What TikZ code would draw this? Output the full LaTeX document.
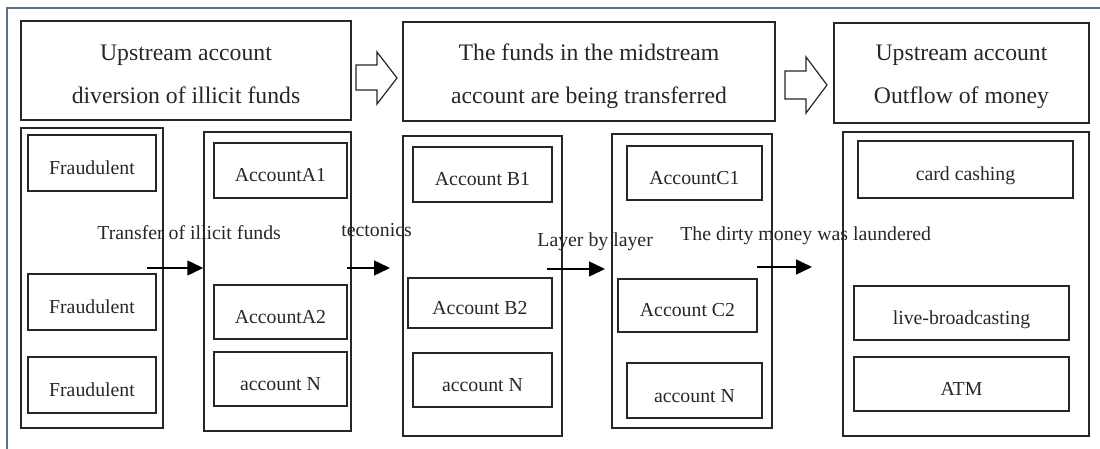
\documentclass[tikz,border=0pt]{standalone}
\usepackage{fontspec}
\setmainfont{Liberation Serif}
\usetikzlibrary{fit,arrows.meta}
\definecolor{frameblue}{HTML}{5B6F8E}
\definecolor{ink}{HTML}{262626}
\begin{document}
\begin{tikzpicture}[x=0.5pt,y=-0.5pt,
 box/.style={draw=ink, line width=0.65pt, inner sep=0pt, text=ink, font=\fontsize{9.9}{11}\selectfont, text height=11.5pt, text depth=0pt},
 head/.style={draw=ink, line width=0.65pt, inner sep=0pt},
 headtext/.style={inner sep=0pt, text=ink, align=center, font=\fontsize{11.85}{21.5}\selectfont},
 col/.style={draw=ink, line width=0.75pt, inner sep=0pt},
 lab/.style={text=ink, font=\fontsize{9.9}{11}\selectfont, inner sep=0pt, anchor=base west},
 conn/.style={draw=black, line width=0.75pt, -{Triangle[length=8pt,width=7.5pt]}},
 blockarrow/.style={draw=ink, line width=0.6pt, fill=white, line join=miter}]
\useasboundingbox (0,0) rectangle (1100,449);
% outer frame
\draw[frameblue, line width=1pt] (7,449) -- (7,8) -- (1100,8);
% headers
\node[head, minimum width=165pt, minimum height=49.5pt] (H1) at (186,70.5) {};
\node[head, minimum width=186pt, minimum height=49.5pt] (H2) at (589,71.5) {};
\node[head, minimum width=127.5pt, minimum height=50pt] (H3) at (961.5,73) {};
\node[headtext] (H1t) at (186,74.5) {Upstream account\\diversion of illicit funds};
\node[headtext] (H2t) at (589,76) {The funds in the midstream\\account are being transferred};
\node[headtext] (H3t) at (961.5,77) {Upstream account\\Outflow of money};
% block arrows
\draw[blockarrow] (356,65) -- (377,65) -- (377,52) -- (397,78) -- (377,104) -- (377,90) -- (356,90) -- cycle;
\draw[blockarrow] (785,71) -- (806,71) -- (806,57) -- (827,85) -- (806,113) -- (806,99) -- (785,99) -- cycle;
% columns
\node[col, fit={(21,128) (163,428)}] (C1) {};
\node[col, fit={(204,132) (351,431)}] (C2) {};
\node[col, fit={(403,136) (562,436)}] (C3) {};
\node[col, fit={(612,134) (772,428)}] (C4) {};
\node[col, fit={(843,132) (1089,436)}] (C5) {};
% column 1
\node[box, minimum width=64pt, minimum height=28pt] (F1) at (92,163) {Fraudulent};
\node[box, minimum width=64pt, minimum height=28pt] (F2) at (92,302) {Fraudulent};
\node[box, minimum width=64pt, minimum height=28pt] (F3) at (92,385) {Fraudulent};
% column 2
\node[box, minimum width=66.5pt, minimum height=27.5pt] (A1) at (280.5,170.5) {AccountA1};
\node[box, minimum width=66.5pt, minimum height=27pt] (A2) at (280.5,312) {AccountA2};
\node[box, minimum width=66.5pt, minimum height=27pt] (AN) at (280.5,379) {account N};
% column 3
\node[box, minimum width=69.5pt, minimum height=27.5pt] (B1) at (482.5,174.5) {Account B1};
\node[box, minimum width=72pt, minimum height=25pt] (B2) at (480,303) {Account B2};
\node[box, minimum width=69.5pt, minimum height=27pt] (BN) at (482.5,380) {account N};
% column 4
\node[box, minimum width=67.5pt, minimum height=27pt] (K1) at (694.5,173) {AccountC1};
\node[box, minimum width=69.5pt, minimum height=26.5pt] (K2) at (687.5,305.5) {Account C2};
\node[box, minimum width=67.5pt, minimum height=27.5pt] (KN) at (694.5,390.5) {account N};
% column 5
\node[box, minimum width=107.5pt, minimum height=28.5pt] (E1) at (965.5,169.5) {card cashing};
\node[box, minimum width=107.5pt, minimum height=27pt] (E2) at (961.5,313) {live-broadcasting};
\node[box, minimum width=107.5pt, minimum height=27pt] (E3) at (961.5,384) {ATM};
% connectors
\coordinate (a0) at (147,268);
\coordinate (b0) at (347,268);
\coordinate (b1) at (390,268);
\coordinate (c0) at (547,269);
\coordinate (c1) at (605,269);
\coordinate (d0) at (757,267);
\coordinate (d1) at (812,267);
\draw[conn] (a0) -- (a0 -| C2.west);
\draw[conn] (b0) -- (b1);
\draw[conn] (c0) -- (c1);
\draw[conn] (d0) -- (d1);
% labels
\node[lab] (L1) at (97,240) {Transfer of illicit funds};
\node[lab] (L2) at (341,237) {tectonics};
\node[lab] (L3) at (537,247) {Layer by layer};
\node[lab] (L4) at (680,241) {The dirty money was laundered};
\end{tikzpicture}
\end{document}
